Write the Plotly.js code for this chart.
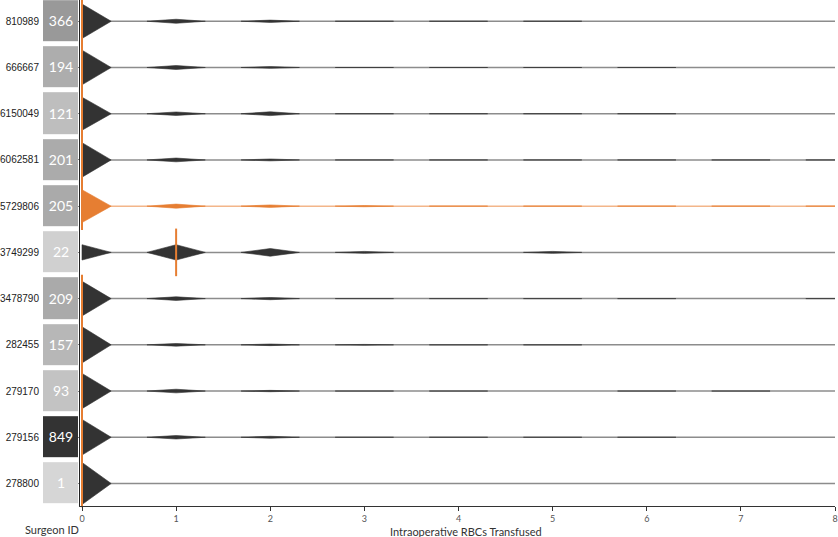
<!DOCTYPE html>
<html>
<head>
<meta charset="utf-8">
<script src="https://cdn.plot.ly/plotly-3.0.1.min.js"></script>
<style>html,body{margin:0;padding:0;background:#fff;}#chart{width:838px;height:537px;}</style>
</head>
<body>
<div id="chart"></div>
<script>
// ---- data (top row first) ----
const surgeonIds = ['810989','666667','6150049','6062581','5729806','3749299','3478790','282455','279170','279156','278800'];
const totals     = [366, 194, 121, 201, 205, 22, 209, 157, 93, 849, 1];
const rbcValues  = [0, 1, 2, 3, 4, 5, 6, 7, 8];
// number of cases per surgeon at each RBC value (0..8)
const counts = [
  [300, 35, 20, 6, 3, 2, 0, 0, 0],
  [160, 18,  8, 3, 2, 1, 2, 0, 0],
  [ 95, 10, 11, 2, 1, 1, 1, 0, 0],
  [165, 18,  9, 3, 2, 1, 1, 1, 1],
  [160, 20, 12, 6, 2, 1, 2, 1, 1],
  [  8,  8,  4, 1, 0, 1, 0, 0, 0],
  [172, 18, 11, 3, 2, 1, 1, 0, 1],
  [135, 10,  6, 3, 2, 1, 0, 0, 0],
  [ 78,  8,  3, 1, 1, 0, 1, 1, 0],
  [720, 70, 40,10, 5, 2, 2, 0, 0],
  [  1,  0,  0, 0, 0, 0, 0, 0, 0]
];
const medians = [0, 0, 0, 0, 0, 1, 0, 0, 0, 0, 0];
const highlighted = '5729806';

// ---- styling ----
const ORANGE = '#e67e32';
const ORANGE_LIGHT = '#f3b68a';
const DARK = '#333333';
const GREY_LINE = '#8c8c8c';
const halfWidth = 0.31;   // kernel half-width in RBC units
const heightScale = 0.455; // row units per unit of proportion
const nRows = surgeonIds.length;
const yIdx = surgeonIds.map((_, i) => nRows - 1 - i);
const xRange = [rbcValues[0], rbcValues[rbcValues.length - 1]];

const traces = [];
const shapes = [];

// count boxes
traces.push({
  type: 'heatmap',
  x: ['n'],
  y: yIdx,
  z: totals.map(v => [v]),
  xaxis: 'x2', yaxis: 'y',
  zmin: 1, zmax: 849,
  colorscale: [[0, '#d6d6d6'], [0.025, '#d0d0d0'], [0.11, '#c3c3c3'], [0.2, '#b5b5b5'], [0.24, '#aaaaaa'], [0.43, '#999999'], [1, '#333333']],
  showscale: false,
  ygap: 5,
  texttemplate: '%{z}',
  textfont: {family: 'Lato', size: 14, color: '#ffffff'},
  hoverinfo: 'skip'
});

// densities
surgeonIds.forEach((id, i) => {
  const yc = yIdx[i];
  const isHi = id === highlighted;
  const col = isHi ? ORANGE : DARK;
  shapes.push({type: 'line', xref: 'x', yref: 'y', x0: xRange[0], x1: xRange[1], y0: yc, y1: yc,
    line: {color: isHi ? ORANGE_LIGHT : GREY_LINE, width: 1.5}, layer: 'below'});
  const xs = [], ys = [];
  counts[i].forEach((c, k) => {
    if (c <= 0) return;
    const h = (c / totals[i]) * heightScale;
    const v = rbcValues[k];
    if (v === rbcValues[0]) {
      xs.push(v, v, v + halfWidth, v, null);
      ys.push(yc - h, yc + h, yc, yc - h, null);
    } else {
      xs.push(v - halfWidth, v, v + halfWidth, v, v - halfWidth, null);
      ys.push(yc, yc + h, yc, yc - h, yc, null);
    }
  });
  traces.push({
    type: 'scatter', mode: 'lines', x: xs, y: ys, fill: 'toself',
    fillcolor: col, line: {color: col, width: 0.6}, hoverinfo: 'skip', showlegend: false,
    xaxis: 'x', yaxis: 'y'
  });
});

// medians
traces.push({
  type: 'scatter', mode: 'markers', x: medians, y: yIdx,
  marker: {symbol: 'line-ns', size: 34, color: ORANGE, line: {color: ORANGE, width: 2}},
  hoverinfo: 'skip', showlegend: false, xaxis: 'x', yaxis: 'y', cliponaxis: false
});

const plotW = 835, plotH = 506;
const layout = {
  width: 838, height: 537,
  margin: {l: 0, r: 3, t: 0, b: 31},
  paper_bgcolor: '#ffffff', plot_bgcolor: '#ffffff',
  showlegend: false,
  xaxis: {
    domain: [80 / plotW, 1], range: [-0.0212, 8], anchor: 'y',
    tickvals: rbcValues, ticks: 'outside', ticklen: 4, tickcolor: '#333', tickwidth: 1,
    showline: true, linecolor: '#333', linewidth: 1,
    showgrid: false, zeroline: false, automargin: false, fixedrange: true,
    tickfont: {family: 'Lato', size: 9, color: '#555'}
  },
  xaxis2: {domain: [43 / plotW, 78 / plotW], anchor: 'y', visible: false, fixedrange: true},
  yaxis: {
    range: [-0.487, 10.46], anchor: 'x',
    tickvals: yIdx, ticktext: surgeonIds,
    ticks: 'outside', ticklen: 3, tickcolor: '#888',
    showline: true, linecolor: '#222', linewidth: 1,
    ticklabelstandoff: 35,
    showgrid: false, zeroline: false, automargin: false, fixedrange: true,
    tickfont: {family: 'Liberation Sans', size: 10, color: '#222'}
  },
  shapes: shapes,
  annotations: [
    {text: 'Surgeon ID', xref: 'paper', yref: 'paper', x: 81 / plotW, y: (plotH - 529) / plotH,
     xanchor: 'right', yanchor: 'middle', showarrow: false, font: {family: 'Lato', size: 11, color: '#333'}},
    {text: 'Intraoperative RBCs Transfused', xref: 'paper', yref: 'paper', x: 466 / plotW, y: (plotH - 531) / plotH,
     xanchor: 'center', yanchor: 'middle', showarrow: false, font: {family: 'Lato', size: 11, color: '#333'}}
  ]
};

Plotly.newPlot('chart', traces, layout, {displayModeBar: false, staticPlot: true});
</script>
</body>
</html>
